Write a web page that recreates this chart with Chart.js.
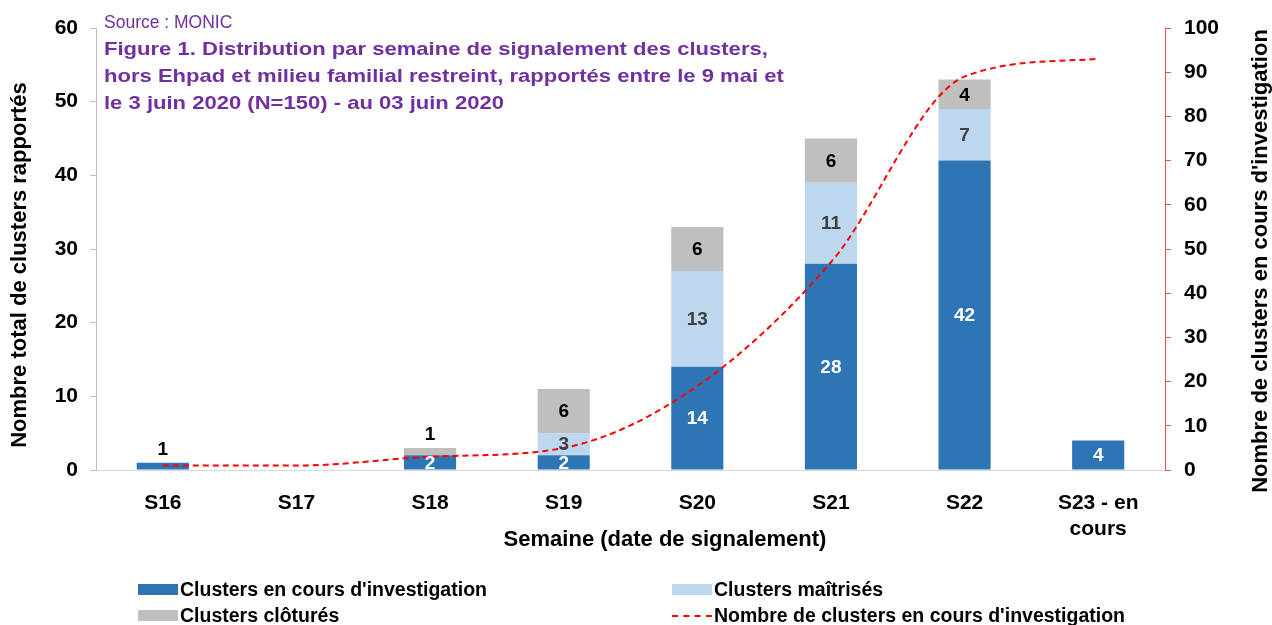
<!DOCTYPE html>
<html lang="fr">
<head>
    <meta charset="UTF-8">
    <title>Clusters par semaine de signalement</title>
    <script src="https://cdn.jsdelivr.net/npm/chart.js"></script>
    <style>
        * { margin: 0; padding: 0; box-sizing: border-box; }
        body {
            width: 1272px;
            height: 625px;
            background: #ffffff;
            font-family: 'Liberation Sans', Arial, sans-serif;
            overflow: hidden;
        }
        .wrap {
            position: relative;
            width: 1272px;
            height: 625px;
        }
        .source {
            position: absolute;
            left: 104px;
            top: 11px;
            color: #7030a0;
            font-size: 17.5px;
            line-height: 22px;
        }
        .titre {
            position: absolute;
            left: 104px;
            top: 35px;
            color: #7030a0;
            font-size: 19px;
            font-weight: bold;
            line-height: 27px;
            white-space: nowrap;
            transform: scaleX(1.16);
            transform-origin: left top;
        }
        .legende {
            position: absolute;
            font-size: 19.5px;
            font-weight: bold;
            color: #000;
            white-space: nowrap;
        }
        .legende span.box {
            display: inline-block;
            width: 40px;
            height: 11px;
            vertical-align: 1px;
            margin-right: 2px;
        }
        .legende span.dash {
            display: inline-block;
            width: 40px;
            border-top: 2px dashed #ff0000;
            vertical-align: 5px;
            margin-right: 2px;
        }
    </style>
</head>
<body>
<div class="wrap">
    <canvas id="chart"></canvas>

    <div class="source">Source : MONIC</div>
    <div class="titre">
        Figure 1. Distribution par semaine de signalement des clusters,<br>
        hors Ehpad et milieu familial restreint, rapportés entre le 9 mai et<br>
        le 3 juin 2020 (N=150) - au 03 juin 2020
    </div>

    <div class="legende" style="left:138px; top:578px;"><span class="box" style="background:#2e75b6"></span>Clusters en cours d'investigation</div>
    <div class="legende" style="left:672px; top:578px;"><span class="box" style="background:#bdd7ee"></span>Clusters maîtrisés</div>
    <div class="legende" style="left:138px; top:604px;"><span class="box" style="background:#bfbfbf"></span>Clusters clôturés</div>
    <div class="legende" style="left:672px; top:604px;"><span class="dash"></span>Nombre de clusters en cours d'investigation</div>
</div>

<script>
    // Données
    const semaines = ['S16', 'S17', 'S18', 'S19', 'S20', 'S21', 'S22', ['S23 - en', 'cours']];
    const enCours = [1, 0, 2, 2, 14, 28, 42, 4];
    const maitrises = [0, 0, 0, 3, 13, 11, 7, 0];
    const clotures = [0, 0, 1, 6, 6, 6, 4, 0];
    const cumulEnCours = [1, 1, 3, 5, 19, 47, 89, 93];

    const ticksGauche = [0, 10, 20, 30, 40, 50, 60];
    const ticksDroite = [0, 10, 20, 30, 40, 50, 60, 70, 80, 90, 100];

    const FONT = "'Liberation Sans', Arial, sans-serif";

    // Etiquettes de valeurs sur les barres
    const valueLabels = {
        id: 'valueLabels',
        afterDatasetsDraw(chart) {
            const ctx = chart.ctx;
            ctx.save();
            ctx.font = 'bold 19px ' + FONT;
            ctx.textAlign = 'center';
            ctx.textBaseline = 'middle';
            chart.data.datasets.forEach((ds, i) => {
                if (ds.type === 'line') return;
                const meta = chart.getDatasetMeta(i);
                meta.data.forEach((bar, j) => {
                    const v = ds.data[j];
                    if (!v) return;
                    const h = bar.base - bar.y;
                    if (h < 10) {
                        ctx.fillStyle = '#000000';
                        ctx.fillText(v, bar.x, bar.y - 13);
                    } else {
                        ctx.fillStyle = ds.labelColor;
                        ctx.fillText(v, bar.x, (bar.y + bar.base) / 2 + 1);
                    }
                });
            });
            ctx.restore();
        }
    };

    // Titres des axes
    const axisTitles = {
        id: 'axisTitles',
        afterDraw(chart) {
            const ctx = chart.ctx;
            ctx.save();
            ctx.font = 'bold 22px ' + FONT;
            ctx.fillStyle = '#000000';
            ctx.textAlign = 'center';
            ctx.textBaseline = 'middle';
            ctx.fillText('Semaine (date de signalement)', 665, 540);
            ctx.restore();

            ctx.save();
            ctx.font = 'bold 22px ' + FONT;
            ctx.fillStyle = '#000000';
            ctx.textAlign = 'center';
            ctx.textBaseline = 'middle';
            ctx.translate(20, 265);
            ctx.rotate(-Math.PI / 2);
            ctx.fillText('Nombre total de clusters rapportés', 0, 0);
            ctx.restore();

            ctx.save();
            ctx.font = 'bold 22px ' + FONT;
            ctx.fillStyle = '#000000';
            ctx.textAlign = 'center';
            ctx.textBaseline = 'middle';
            ctx.translate(1261, 261);
            ctx.rotate(-Math.PI / 2);
            ctx.fillText("Nombre de clusters en cours d'investigation", 0, 0);
            ctx.restore();
        }
    };

    const ctx = document.getElementById('chart').getContext('2d');
    const chart = new Chart(ctx, {
        data: {
            labels: semaines,
            datasets: [
                {
                    type: 'line',
                    label: "Nombre de clusters en cours d'investigation",
                    data: cumulEnCours,
                    yAxisID: 'y2',
                    borderColor: '#ff0000',
                    borderWidth: 2,
                    borderDash: [6, 4],
                    pointRadius: 0,
                    cubicInterpolationMode: 'monotone',
                    fill: false,
                    order: 0
                },
                {
                    type: 'bar',
                    label: "Clusters en cours d'investigation",
                    data: enCours,
                    backgroundColor: '#2e75b6',
                    labelColor: '#ffffff',
                    yAxisID: 'y',
                    order: 1
                },
                {
                    type: 'bar',
                    label: 'Clusters maîtrisés',
                    data: maitrises,
                    backgroundColor: '#bdd7ee',
                    labelColor: '#404040',
                    yAxisID: 'y',
                    order: 1
                },
                {
                    type: 'bar',
                    label: 'Clusters clôturés',
                    data: clotures,
                    backgroundColor: '#bfbfbf',
                    labelColor: '#000000',
                    yAxisID: 'y',
                    order: 1
                }
            ]
        },
        options: {
            responsive: true,
            maintainAspectRatio: false,
            animation: false,
            datasets: {
                bar: { barPercentage: 0.78, categoryPercentage: 0.5 }
            },
            layout: { padding: { top: 28, left: 0, right: 0, bottom: 70 } },
            plugins: {
                legend: { display: false },
                tooltip: { enabled: false }
            },
            scales: {
                x: {
                    stacked: true,
                    grid: { display: false },
                    border: { display: true, color: '#d9d9d9', width: 1 },
                    ticks: {
                        color: '#000000',
                        font: { family: FONT, size: 21, weight: 'bold' },
                        padding: 13,
                        maxRotation: 0,
                        autoSkip: false
                    },
                    afterFit(scale) { scale.height = 85; }
                },
                y: {
                    stacked: true,
                    position: 'left',
                    min: 0,
                    max: 60,
                    afterBuildTicks(scale) { scale.ticks = ticksGauche.map(v => ({ value: v })); },
                    grid: {
                        drawOnChartArea: false,
                        drawTicks: true,
                        tickLength: 6,
                        color: '#bfbfbf'
                    },
                    border: { display: true, color: '#bfbfbf', width: 1 },
                    ticks: {
                        color: '#000000',
                        font: { family: FONT, size: 21, weight: 'bold' },
                        padding: 12
                    },
                    afterFit(scale) { scale.width = 96; }
                },
                y2: {
                    position: 'right',
                    min: 0,
                    max: 100,
                    afterBuildTicks(scale) { scale.ticks = ticksDroite.map(v => ({ value: v })); },
                    grid: {
                        drawOnChartArea: false,
                        drawTicks: true,
                        tickLength: 6,
                        color: '#ff4b4b'
                    },
                    border: { display: true, color: '#ff4b4b', width: 1 },
                    ticks: {
                        color: '#000000',
                        font: { family: FONT, size: 21, weight: 'bold' },
                        padding: 13
                    },
                    afterFit(scale) { scale.width = 107; }
                }
            }
        },
        plugins: [valueLabels, axisTitles]
    });
</script>
</body>
</html>
